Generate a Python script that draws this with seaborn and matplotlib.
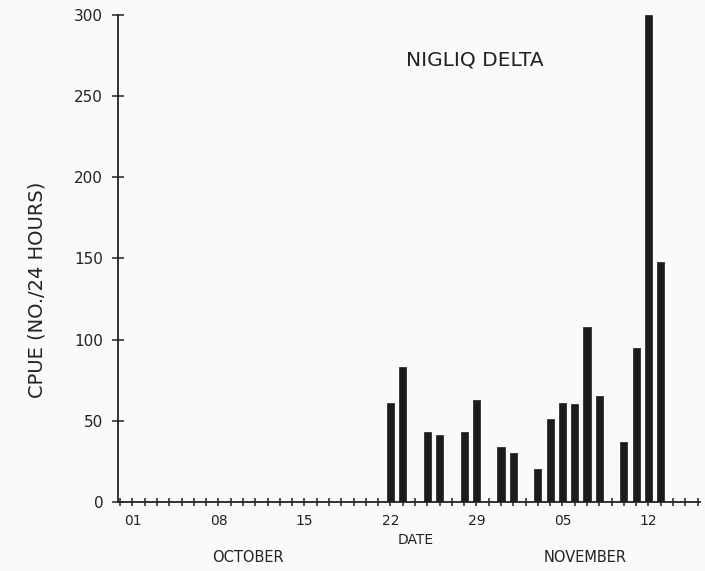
import matplotlib
matplotlib.use("Agg")
import matplotlib.pyplot as plt
import seaborn as sns
import pandas as pd
from matplotlib.ticker import MultipleLocator, FixedLocator

# Day index: Oct 01 = 1, Nov 01 = 32
dates = ["Oct 22", "Oct 23", "Oct 25", "Oct 26", "Oct 28", "Oct 29", "Oct 31",
         "Nov 01", "Nov 03", "Nov 04", "Nov 05", "Nov 06", "Nov 07", "Nov 08",
         "Nov 10", "Nov 11", "Nov 12", "Nov 13"]
day_index = [22, 23, 25, 26, 28, 29, 31, 32, 34, 35, 36, 37, 38, 39, 41, 42, 43, 44]
cpue = [61, 83, 43, 41, 43, 63, 34, 30, 20, 51, 61, 60, 108, 65, 37, 95, 300, 148]

tick_positions = [1, 8, 15, 22, 29, 36, 43]
tick_labels = ["01", "08", "15", "22", "29", "05", "12"]

df = pd.DataFrame({"day": day_index, "cpue": cpue, "date": dates})

sns.set_theme(style="white")
plt.rcParams["font.family"] = ["DejaVu Sans"]

bg = "#fafaf8"
ink = "#222222"
fig = plt.figure(figsize=(7.05, 5.71), dpi=100, facecolor=bg)
ax = fig.add_axes([0.167, 0.121, 0.826, 0.853], facecolor=bg)

sns.barplot(data=df, x="day", y="cpue", native_scale=True, width=0.58,
            color="#1c1c1c", saturation=1, edgecolor="#1c1c1c", linewidth=0.5, ax=ax)

ax.set_xlim(-0.2, 47.2)
ax.set_ylim(0, 300)
for s in ["top", "right"]:
    ax.spines[s].set_visible(False)
for s in ["left", "bottom"]:
    ax.spines[s].set_color(ink)
    ax.spines[s].set_linewidth(1.3)

ax.xaxis.set_major_locator(FixedLocator(tick_positions))
ax.set_xticklabels(tick_labels)
ax.xaxis.set_minor_locator(MultipleLocator(1))
ax.yaxis.set_major_locator(MultipleLocator(50))
ax.tick_params(axis="x", which="both", direction="inout", length=6, width=1.1,
               color=ink, bottom=True, labelsize=10, pad=6, labelcolor=ink)
ax.tick_params(axis="y", which="major", direction="inout", length=9, width=1.1,
               color=ink, left=True, labelsize=11, pad=6, labelcolor=ink)

ax.set_xlabel("")
ax.set_ylabel("CPUE (NO./24 HOURS)", fontsize=14, color=ink)
ax.yaxis.set_label_coords(-0.122, 0.435)

ax.text(28.9, 272, "NIGLIQ DELTA", fontsize=14.5, ha="center", va="center", color=ink)

fig.text(0.589, 0.054, "DATE", fontsize=10, ha="center", va="center", color=ink)
fig.text(0.352, 0.023, "OCTOBER", fontsize=10.5, ha="center", va="center", color=ink)
fig.text(0.830, 0.023, "NOVEMBER", fontsize=10.5, ha="center", va="center", color=ink)

fig.savefig("out.png", dpi=100, facecolor=bg)
